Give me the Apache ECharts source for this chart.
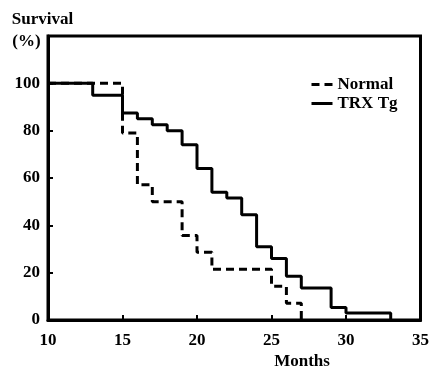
<!DOCTYPE html>
<html><head><meta charset="utf-8">
<script src="https://cdn.jsdelivr.net/npm/echarts@6/dist/echarts.min.js"></script>
<style>html,body{margin:0;padding:0;background:#fff}#c{width:432px;height:370px}</style>
</head><body><div id="c"></div>
<script>
const normalMonths = [10, 15, 16, 17, 19, 20, 21, 25, 26, 27];
const normalSurvival = [100, 79, 57.1, 50, 35.7, 28.6, 21.4, 14.3, 7.1, 0];
const trxMonths = [10, 13, 15, 16, 17, 18, 19, 20, 21, 22, 23, 24, 25, 26, 27, 29, 30, 33];
const trxSurvival = [100, 95, 87.5, 85, 82.5, 80, 74, 64, 54, 51.5, 44.5, 31, 26, 18.5, 13.5, 5.3, 3, 0];
const xTickLabels = ['10', '15', '20', '25', '30', '35'];
const yTickLabels = ['0', '20', '40', '60', '80', '100'];
const seriesNames = ['Normal', 'TRX Tg'];

const FONT = '"Liberation Serif", "Times New Roman", serif';
const DASH = [8, 5];
const toPairs = (xs, ys) => xs.map((x, i) => [x, ys[i]]);

const chart = echarts.init(document.getElementById('c'), null, {renderer: 'canvas'});
chart.setOption({
  animation: false,
  backgroundColor: '#fff',
  grid: {left: 48, right: 11, top: 36, bottom: 50, show: true, borderColor: '#000', borderWidth: 3},
  legend: {
    orient: 'vertical', left: 305, top: 71, itemWidth: 21, itemHeight: 12, itemGap: 2,
    itemStyle: {opacity: 0, borderWidth: 0},
    data: [
      {name: seriesNames[0], lineStyle: {color: '#000', width: 3, type: DASH}},
      {name: seriesNames[1], lineStyle: {color: '#000', width: 3, type: 'solid'}}
    ],
    textStyle: {fontFamily: FONT, fontWeight: 'bold', fontSize: 17, color: '#000'}
  },
  xAxis: {
    type: 'value', min: 10, max: 35, interval: 5,
    axisLine: {lineStyle: {color: '#000', width: 3}},
    axisTick: {inside: true, length: 5, lineStyle: {color: '#000', width: 2}},
    splitLine: {show: false},
    axisLabel: {
      margin: 12, color: '#000', fontFamily: FONT, fontWeight: 'bold', fontSize: 17,
      formatter: v => xTickLabels.includes(String(v)) ? String(v) : ''
    }
  },
  yAxis: {
    type: 'value', min: 0, max: 120, interval: 20,
    axisLine: {lineStyle: {color: '#000', width: 3}},
    axisTick: {inside: true, length: 5, lineStyle: {color: '#000', width: 2}},
    splitLine: {show: false},
    axisLabel: {
      margin: 8, color: '#000', fontFamily: FONT, fontWeight: 'bold', fontSize: 17,
      formatter: v => yTickLabels.includes(String(v)) ? String(v) : ''
    }
  },
  series: [
    {
      name: seriesNames[0], type: 'line', step: 'end', symbol: 'none',
      data: toPairs(normalMonths, normalSurvival),
      lineStyle: {color: '#000', width: 3, type: DASH},
      itemStyle: {color: '#000'}
    },
    {
      name: seriesNames[1], type: 'line', step: 'end', symbol: 'none',
      data: toPairs(trxMonths, trxSurvival),
      lineStyle: {color: '#000', width: 3, type: 'solid'},
      itemStyle: {color: '#000'}
    }
  ],
  graphic: [
    {type: 'text', x: 42.5, y: 20, style: {text: 'Survival', font: 'bold 17px ' + FONT, fill: '#000', align: 'center', verticalAlign: 'middle'}},
    {type: 'text', x: 26.5, y: 42, style: {text: '(%)', font: 'bold 17px ' + FONT, fill: '#000', align: 'center', verticalAlign: 'middle'}},
    {type: 'text', x: 302, y: 362, style: {text: 'Months', font: 'bold 17px ' + FONT, fill: '#000', align: 'center', verticalAlign: 'middle'}}
  ]
});
</script>
</body></html>
